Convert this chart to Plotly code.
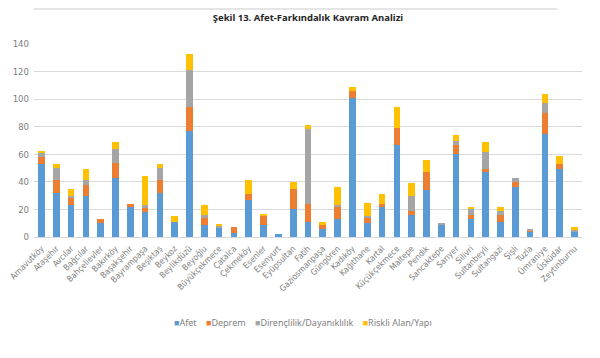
import plotly.graph_objects as go

districts = ["Arnavutköy", "Ataşehir", "Avcılar", "Bağcılar", "Bahçelievler", "Bakırköy",
             "Başakşehir", "Bayrampaşa", "Beşiktaş", "Beykoz", "Beylikdüzü", "Beyoğlu",
             "Büyükçekmece", "Çatalca", "Çekmeköy", "Esenler", "Esenyurt", "Eyüpsultan",
             "Fatih", "Gaziosmanpaşa", "Güngören", "Kadıköy", "Kağıthane", "Kartal",
             "Küçükçekmece", "Maltepe", "Pendik", "Sancaktepe", "Sarıyer", "Silivri",
             "Sultanbeyli", "Sultangazi", "Şişli", "Tuzla", "Ümraniye", "Üsküdar", "Zeytinburnu"]

afet =    [53, 32, 23, 30, 10, 43, 22, 18, 32, 11, 77, 9, 7, 3, 27, 9, 2, 20,
           11, 6, 13, 101, 10, 22, 67, 16, 34, 9, 60, 13, 47, 11, 36, 4, 75, 49, 4]
deprem =  [5, 9, 6, 8, 3, 11, 2, 3, 9, 0, 17, 5, 0, 4, 4, 6, 0, 15,
           13, 3, 9, 5, 4, 2, 12, 3, 13, 0, 7, 3, 2, 5, 4, 1, 15, 4, 0]
diren =   [3, 9, 1, 3, 0, 10, 0, 2, 9, 0, 27, 2, 1, 0, 0, 0, 0, 0,
           54, 0, 1, 0, 1, 0, 0, 11, 0, 1, 3, 4, 13, 3, 3, 1, 7, 0, 1]
riskli =  [1, 3, 5, 8, 0, 5, 0, 21, 3, 4, 12, 7, 1, 0, 10, 2, 0, 5,
           3, 2, 13, 3, 10, 7, 15, 9, 9, 0, 4, 2, 7, 3, 0, 0, 7, 6, 2]

series = [
    ("Afet", afet, "#5B9BD5"),
    ("Deprem", deprem, "#ED7D31"),
    ("Dirençlilik/Dayanıklılık", diren, "#A5A5A5"),
    ("Riskli Alan/Yapı", riskli, "#FFC000"),
]

W, H = 600, 358
OFF = 8  # page body margin of the browser

fig = go.Figure()
for name, vals, color in series:
    fig.add_trace(go.Bar(x=districts, y=vals, name=name, marker_color=color,
                         marker_line_width=0, showlegend=False))

plot_h = 237.5 - 44
narrow = "Liberation Sans Narrow, DejaVu Sans Condensed, Noto Sans"

# compact legend (Excel style: small square + label)
legend_html = "&nbsp;&nbsp;&nbsp;&nbsp;".join(
    f"<span style='color:{c}'>■</span>{n}" for n, _, c in series)
fig.add_annotation(text=legend_html, xref="paper", yref="paper",
                   x=0.49, y=-(323 - 237.5) / plot_h, xanchor="center", yanchor="middle",
                   showarrow=False, font=dict(family="Noto Sans", size=9, color="#7f7f7f"))

fig.update_layout(
    width=W, height=H,
    barmode="stack", bargap=0.55,
    paper_bgcolor="white", plot_bgcolor="white",
    margin=dict(l=34 - OFF, r=18 + OFF, t=44 - OFF, b=H + OFF - 237.5),
    font=dict(family="Noto Sans", size=9, color="#7f7f7f"),
    title=dict(text="<b>Şekil 13. Afet-Farkındalık Kavram Analizi</b>",
               x=0.5, xref="paper", y=1 - (18 - OFF) / H, yanchor="middle",
               font=dict(family="Noto Sans", size=9.5, color="#262626")),
    showlegend=False,
)
fig.update_xaxes(tickangle=-45, showgrid=False, showline=False, ticks="",
                 automargin=False, ticklabelstandoff=4,
                 tickfont=dict(family=narrow, size=8.5, color="#808080"))
fig.update_yaxes(range=[0, 140], dtick=20, showgrid=True, gridcolor="#d9d9d9",
                 gridwidth=1, zeroline=True, zerolinecolor="#d9d9d9", zerolinewidth=1,
                 ticks="", automargin=False, ticklabelstandoff=4,
                 tickfont=dict(family=narrow, size=9.5, color="#808080"))
fig.add_shape(type="line", xref="paper", yref="paper", x0=0, x1=0.955,
              y0=1 + (44 - 9) / plot_h, y1=1 + (44 - 9) / plot_h,
              line=dict(color="#dddddd", width=1.5))

fig.write_html("out.html")
